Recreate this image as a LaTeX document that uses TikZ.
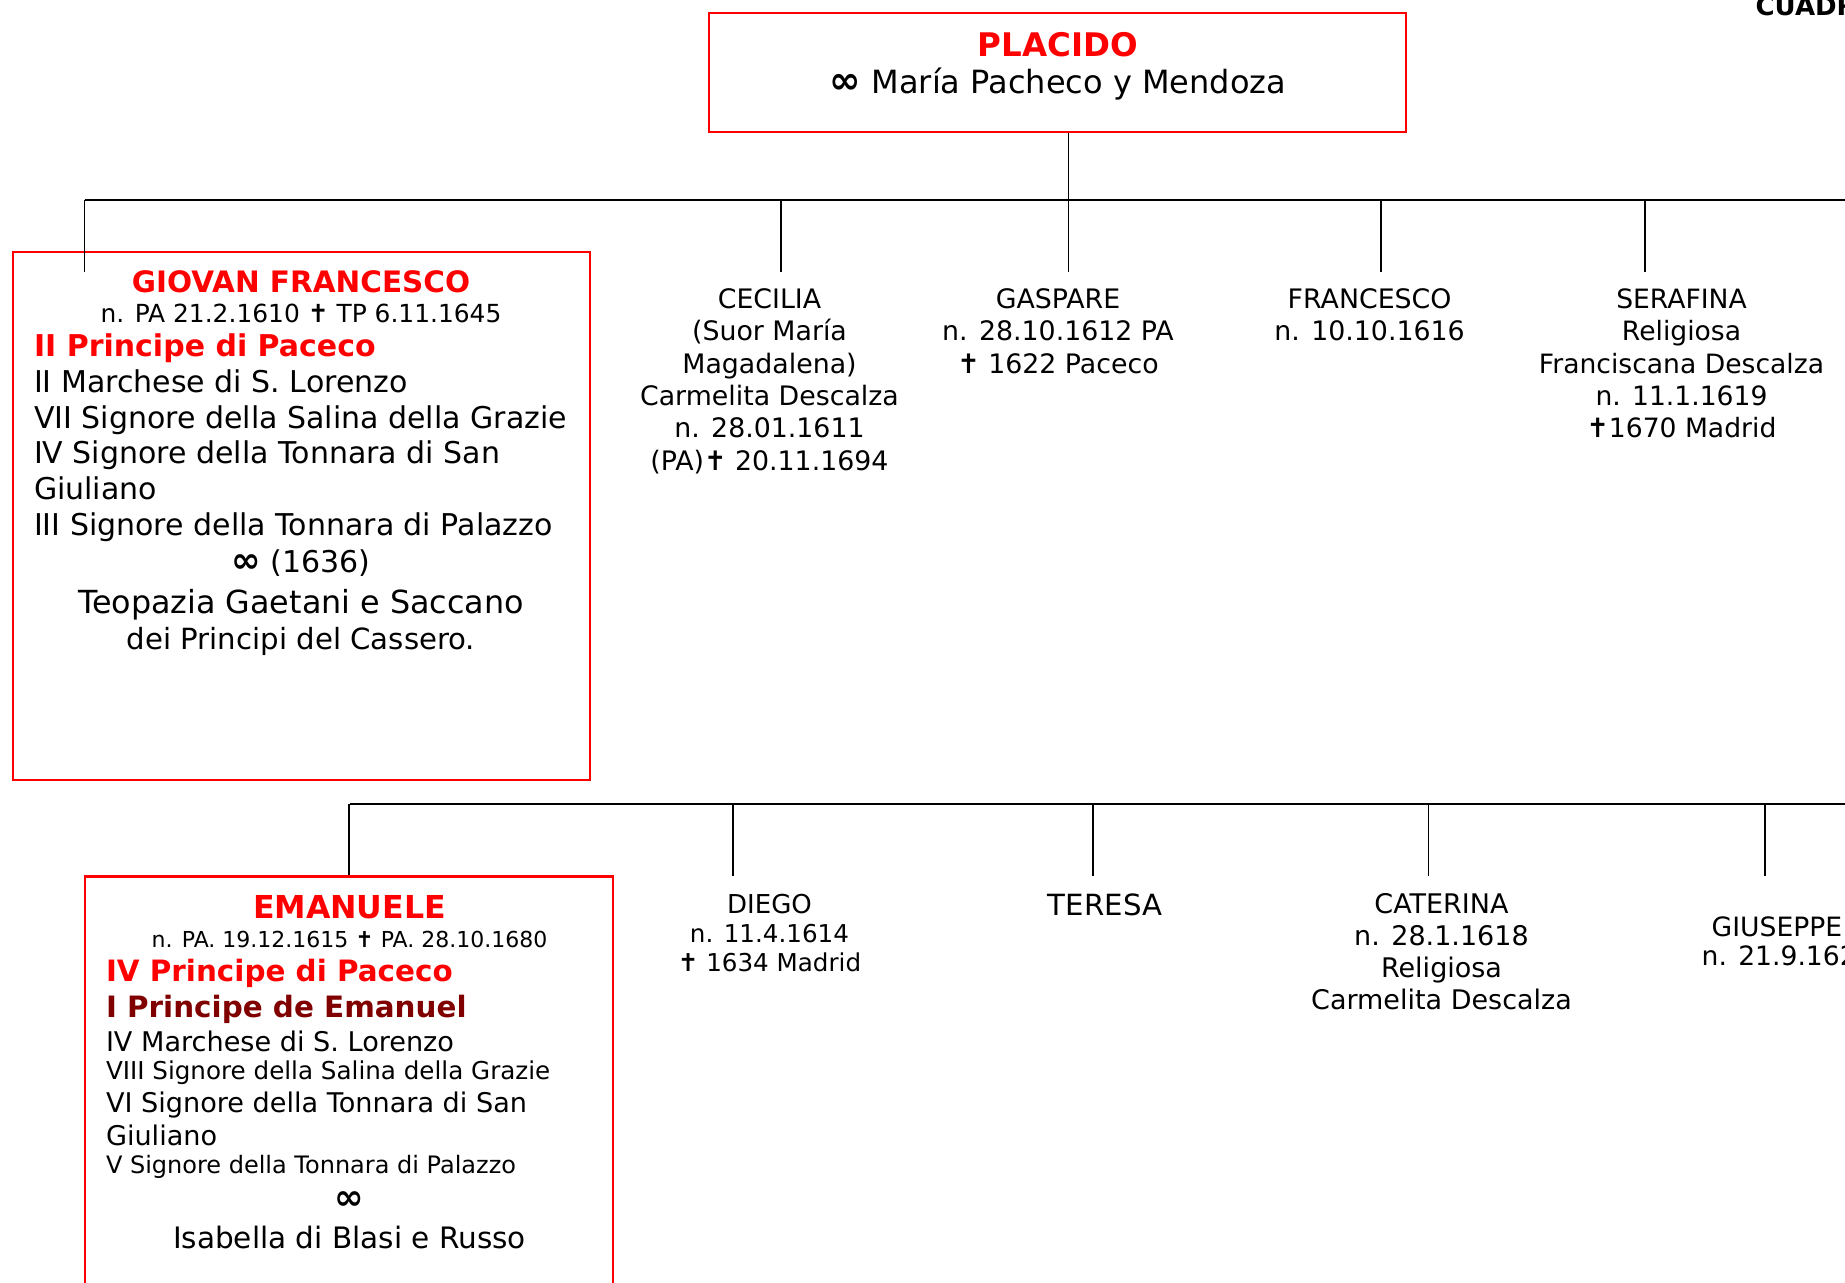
\documentclass[tikz,border=0pt]{standalone}
\usepackage{fontspec}
\usepackage{graphicx}
\setmainfont{DejaVu Sans}
\definecolor{titlered}{RGB}{255,0,0}
\definecolor{deepred}{RGB}{128,0,0}
\newcommand\fsz[1]{\fontsize{#1pt}{#1pt}\selectfont}
\newcommand\marr{\scalebox{1.18}{\bfseries ∞}}
% stack of centred lines: name, x, first baseline, line step, font size, lines
\newcommand\linestack[6]{%
  \foreach \txt [count=\k] in {#6}{%
    \node[ln,font=\fsz{#5}] (#1-\k) at (#2,{#3+(\k-1)*#4}) {\txt};}}
\tikzset{
  ln/.style={inner sep=0pt, outer sep=0pt, anchor=base},
  lnl/.style={ln, anchor=base west},
  redbox/.style={draw=titlered, line width=1.25pt, inner sep=0pt},
  bar/.style={draw=black, line width=0.9pt},
  drop/.style={draw=black, line width=0.7pt},
}
\begin{document}
\begin{tikzpicture}[x=0.5pt,y=-0.5pt]
\useasboundingbox (0,0) rectangle (1845,1283);

% heading in the corner
\node[lnl,font=\fsz{13}\bfseries] (heading) at (1755.6,16) {CUADRO};

% ---------- parents ----------
\node[redbox, minimum width=348.5pt, minimum height=59.5pt] (placido) at (1057.5,72.5) {};
\node[ln,font=\fsz{16.25}\bfseries,text=titlered] (placido-name) at (1058,56.5) {PLACIDO};
\node[ln,font=\fsz{16}] (placido-wife) at (1058,93.5) {\marr{} María Pacheco y Mendoza};

% ---------- first generation ----------
\node[redbox, minimum width=288.5pt, minimum height=264pt] (giovan) at (301.5,516) {};
\node[ln,font=\fsz{14.75}\bfseries,text=titlered] (giovan-name) at (301,293) {GIOVAN FRANCESCO};
\node[ln,font=\fsz{12.45}] (giovan-dates) at (301,323) {n. PA 21.2.1610 ✝ TP 6.11.1645};
\node[lnl,font=\fsz{15}\bfseries,text=titlered] (giovan-t1) at (34,357) {II Principe di Paceco};
\node[lnl,font=\fsz{15}] (giovan-t2) at (34,392.6) {II Marchese di S. Lorenzo};
\node[lnl,font=\fsz{15}] (giovan-t3) at (34,428.2) {VII Signore della Salina della Grazie};
\node[lnl,font=\fsz{15}] (giovan-t4) at (34,463.8) {IV Signore della Tonnara di San};
\node[lnl,font=\fsz{15}] (giovan-t5) at (34,499.4) {Giuliano};
\node[lnl,font=\fsz{15}] (giovan-t6) at (34,535) {III Signore della Tonnara di Palazzo};
\node[ln,font=\fsz{15}] (giovan-marr) at (301,572) {\marr{} (1636)};
\node[ln,font=\fsz{15.9}] (giovan-wife) at (301,613) {Teopazia Gaetani e Saccano};
\node[ln,font=\fsz{14.6}] (giovan-wife2) at (301,649) {dei Principi del Cassero.};

\linestack{cecilia}{769.5}{308.5}{32.3}{13.4}{CECILIA,{(Suor María},{Magadalena)},Carmelita Descalza,n. 28.01.1611,{(PA)✝ 20.11.1694}}
\linestack{gaspare}{1058}{308.5}{32.3}{13.4}{GASPARE,n. 28.10.1612 PA,✝ 1622 Paceco}
\linestack{francesco}{1369.6}{308.5}{32.3}{13.4}{FRANCESCO,n. 10.10.1616}
\linestack{serafina}{1681.5}{308.5}{32.3}{13.3}{SERAFINA,Religiosa,Franciscana Descalza,n. 11.1.1619,✝1670 Madrid}

% connectors of the first generation
\coordinate (bar1-west) at (84.7,200);
\coordinate (bar1-east) at (1845,200);
\coordinate (giovan-drop) at (84.7,272);
\coordinate (cecilia-drop) at (781,272);
\coordinate (gaspare-drop) at (1068.5,272);
\coordinate (francesco-drop) at (1381,272);
\coordinate (serafina-drop) at (1645,272);
\draw[bar] (bar1-west) -- (bar1-east);
\draw[drop] (placido.south -| gaspare-drop) -- (gaspare-drop);
\foreach \c in {giovan,cecilia,francesco,serafina}
  \draw[drop] (\c-drop |- bar1-west) -- (\c-drop);

% ---------- second row ----------
\node[redbox, minimum width=264pt, minimum height=221.5pt] (emanuele) at (349,1098) {};
\node[ln,font=\fsz{15.8}\bfseries,text=titlered] (emanuele-name) at (349.5,918.5) {EMANUELE};
\node[ln,font=\fsz{11}] (emanuele-dates) at (349.5,947) {n. PA. 19.12.1615 ✝ PA. 28.10.1680};
\node[lnl,font=\fsz{14.7}\bfseries,text=titlered] (emanuele-t1) at (106,981) {IV Principe di Paceco};
\node[lnl,font=\fsz{14.7}\bfseries,text=deepred] (emanuele-t2) at (106,1017) {I Principe de Emanuel};
\node[lnl,font=\fsz{13.55}] (emanuele-t3) at (106,1051) {IV Marchese di S. Lorenzo};
\node[lnl,font=\fsz{12.3}] (emanuele-t4) at (106,1079.5) {VIII Signore della Salina della Grazie};
\node[lnl,font=\fsz{13.55}] (emanuele-t5) at (106,1112) {VI Signore della Tonnara di San};
\node[lnl,font=\fsz{13.55}] (emanuele-t6) at (106,1145) {Giuliano};
\node[lnl,font=\fsz{12}] (emanuele-t7) at (106,1173.5) {V Signore della Tonnara di Palazzo};
\node[ln,font=\fsz{15}] (emanuele-marr) at (349.5,1209) {\marr};
\node[ln,font=\fsz{14.75}] (emanuele-wife) at (349.5,1248) {Isabella di Blasi e Russo};

\node[ln,font=\fsz{13}] (diego-1) at (769.5,913.5) {DIEGO};
\node[ln,font=\fsz{12.3}] (diego-2) at (769.5,942.5) {n. 11.4.1614};
\node[ln,font=\fsz{12.3}] (diego-3) at (769.5,971.5) {✝ 1634 Madrid};
\node[ln,font=\fsz{14.6}] (teresa-1) at (1105,915.7) {TERESA};
\linestack{caterina}{1441.5}{913.5}{32}{13.5}{CATERINA,n. 28.1.1618,Religiosa,Carmelita Descalza}
\node[lnl,font=\fsz{13.3}] (giuseppe-1) at (1711.7,936) {GIUSEPPE};
\node[lnl,font=\fsz{13.3}] (giuseppe-2) at (1701.7,965) {n. 21.9.1620};

% connectors of the second row
\coordinate (bar2-west) at (349.5,804);
\coordinate (bar2-east) at (1845,804);
\coordinate (diego-drop) at (733,875.5);
\coordinate (teresa-drop) at (1093,875.5);
\coordinate (caterina-drop) at (1428.5,875.5);
\coordinate (giuseppe-drop) at (1765,875.5);
\draw[bar] (bar2-west) -- (bar2-east);
\draw[drop] (emanuele.north |- bar2-west) -- (emanuele.north);
\foreach \c in {diego,teresa,caterina,giuseppe}
  \draw[drop] (\c-drop |- bar2-west) -- (\c-drop);
\end{tikzpicture}
\end{document}
